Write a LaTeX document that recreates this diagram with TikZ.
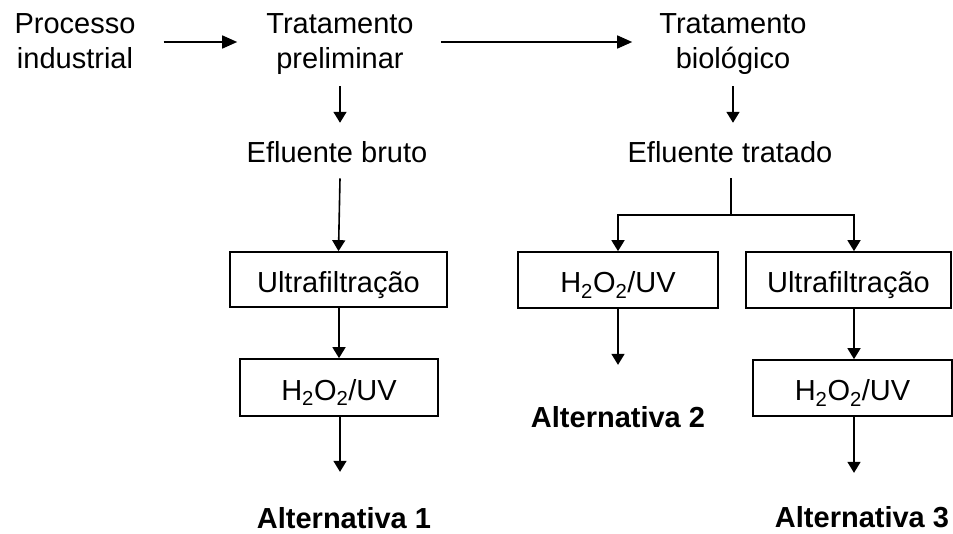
\documentclass[tikz,border=0pt]{standalone}
\usepackage{fontspec}
\setmainfont{Liberation Sans}
\usetikzlibrary{arrows.meta}
\begin{document}
\begin{tikzpicture}[x=1pt,y=-1pt,
  lbl/.style={font=\fontsize{29}{35}\selectfont, inner sep=0pt, align=center},
  alt/.style={font=\fontsize{29}{35}\selectfont\bfseries, inner sep=0pt, anchor=base},
  box/.style={draw, line width=1.7pt, font=\fontsize{29}{35}\selectfont, text height=25pt, text depth=0pt, inner sep=0pt},
  arr/.style={line width=1.6pt, -{Triangle[length=11pt,width=13pt]}},
  harr/.style={line width=1.6pt, -{Triangle[length=15pt,width=13pt]}},
  ln/.style={line width=1.6pt}]
\useasboundingbox (0,0) rectangle (953,533);
% top row labels
\node[lbl, anchor=base] (proc) at (75,68) {Processo\\industrial};
\node[lbl, anchor=base] (prel) at (340,68) {Tratamento\\preliminar};
\node[lbl, anchor=base] (biol) at (733,68) {Tratamento\\biológico};
\node[lbl, anchor=base] (ebruto) at (337,162) {Efluente bruto};
\node[lbl, anchor=base] (etrat) at (730,162) {Efluente tratado};
% boxes
\node[box, minimum width=217pt, minimum height=55pt] (uf1) at (338.5,279.5) {Ultrafiltração};
\node[box, minimum width=198pt, minimum height=57pt] (hA) at (339,387.5) {H\textsubscript{2}O\textsubscript{2}/UV};
\node[box, minimum width=200pt, minimum height=56pt] (h2) at (618,280) {H\textsubscript{2}O\textsubscript{2}/UV};
\node[box, minimum width=205pt, minimum height=56pt] (uf2) at (848.5,280) {Ultrafiltração};
\node[box, minimum width=199pt, minimum height=56pt] (hB) at (852.5,388) {H\textsubscript{2}O\textsubscript{2}/UV};
% alternatives
\node[alt] (alt1) at (344,528) {Alternativa 1};
\node[alt] (alt2) at (618,427) {Alternativa 2};
\node[alt] (alt3) at (862,527) {Alternativa 3};
% helper coordinates
\coordinate (toprow) at (0,42);
\coordinate (split) at (731,215);
% connectors
\draw[harr] ([xshift=28pt]proc.east |- toprow) -- ([xshift=-29pt]prel.west |- toprow);
\draw[harr] ([xshift=27pt]prel.east |- toprow) -- ([xshift=-27pt]biol.west |- toprow);
\draw[arr] ([yshift=-12pt]prel.south) -- ([yshift=18pt]prel.south |- ebruto.north);
\draw[arr] ([yshift=-12pt]biol.south) -- ([yshift=18pt]biol.south |- etrat.north);
\draw[arr] ([xshift=3pt,yshift=-16pt]ebruto.south) -- (uf1.north);
\draw[ln] ([xshift=1pt,yshift=-16pt]etrat.south) -- (split);
\draw[arr] (split) -| (h2.north);
\draw[arr] (split) -| ([xshift=5.5pt]uf2.north);
\draw[arr] ([xshift=0.5pt]uf1.south) -- ([xshift=0.5pt]uf1.south |- hA.north);
\draw[arr] ([xshift=1pt]hA.south) -- ([xshift=1pt,yshift=-55pt]hA.south);
\draw[arr] (h2.south) -- ([yshift=-56pt]h2.south);
\draw[arr] ([xshift=5.5pt]uf2.south) -- ([xshift=5.5pt]uf2.south |- hB.north);
\draw[arr] ([xshift=1.5pt]hB.south) -- ([xshift=1.5pt,yshift=-56pt]hB.south);
\end{tikzpicture}
\end{document}
